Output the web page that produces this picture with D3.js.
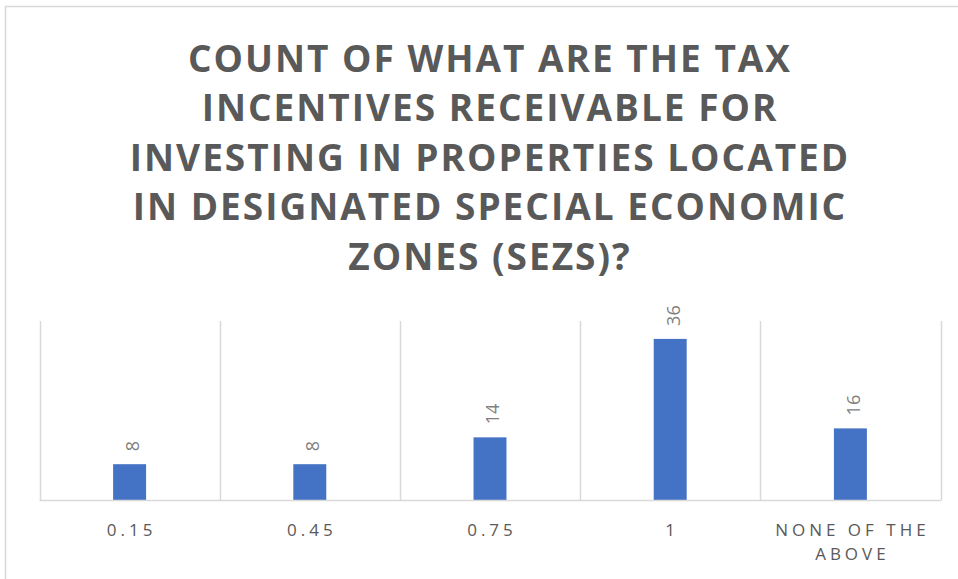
<!DOCTYPE html>
<html lang="en">
<head>
<meta charset="UTF-8">
<title>Count of tax incentives</title>
<script src="https://d3js.org/d3.v7.min.js"></script>
<style>
  body { margin: 0; background: #fff; }
  svg { display: block; }
</style>
</head>
<body>
<script>
// data
var categories = ["0.15", "0.45", "0.75", "1", "NONE OF THE ABOVE"];
var counts = [8, 8, 14, 36, 16];
var titleLines = [
    "COUNT OF WHAT ARE THE TAX",
    "INCENTIVES RECEIVABLE FOR",
    "INVESTING IN PROPERTIES LOCATED",
    "IN DESIGNATED SPECIAL ECONOMIC",
    "ZONES (SEZS)?"
];
var yMax = 40;

var w = 958;
var h = 579;
var margin = {top: 321, right: 17.5, bottom: 79, left: 39.5};

var svg = d3.select("body")
    .append("svg")
    .attr("width", w)
    .attr("height", h);

svg.append("rect")
    .attr("width", w)
    .attr("height", h)
    .attr("fill", "#fff");

// chart frame, runs off the right and bottom of the picture
svg.append("rect")
    .attr("x", 5.5)
    .attr("y", 6.5)
    .attr("width", 1000)
    .attr("height", 1000)
    .attr("fill", "none")
    .attr("stroke", "#d9d9d9")
    .attr("stroke-width", 1.5);

// title
svg.append("g")
    .selectAll("text")
    .data(titleLines)
    .enter()
    .append("text")
    .attr("x", 490)
    .attr("y", function(d, i){ return 71.5 + i * 49.5; })
    .attr("text-anchor", "middle")
    .style("font-family", "'Open Sans', sans-serif")
    .style("font-weight", "bold")
    .style("font-size", "37px")
    .style("letter-spacing", "2px")
    .attr("fill", "#595959")
    .text(function(d){ return d; });

var x0 = margin.left, x1 = w - margin.right;
var y0 = h - margin.bottom, y1 = margin.top;

var slot = d3.scaleBand()
    .domain(categories)
    .range([x0, x1]);

var x = d3.scaleBand()
    .domain(categories)
    .range([x0, x1])
    .paddingInner(0.817)
    .paddingOuter(0.4085);

var y = d3.scaleLinear()
    .domain([0, yMax])
    .range([y0, y1]);

// vertical separators between categories
var edges = categories.map(function(c){ return slot(c); }).concat([x1]);
svg.append("g")
    .selectAll("line")
    .data(edges)
    .enter()
    .append("line")
    .attr("x1", function(d){ return Math.round(d) + 0.5; })
    .attr("x2", function(d){ return Math.round(d) + 0.5; })
    .attr("y1", y(yMax))
    .attr("y2", y(0))
    .attr("stroke", "#d9d9d9")
    .attr("stroke-width", 1.5);

// bars
svg.append("g")
    .selectAll("rect")
    .data(counts)
    .enter()
    .append("rect")
    .attr("x", function(d, i){ return x(categories[i]); })
    .attr("y", function(d){ return y(d); })
    .attr("width", x.bandwidth())
    .attr("height", function(d){ return y(0) - y(d); })
    .attr("fill", "#4472c4");

// baseline
svg.append("line")
    .attr("x1", x0)
    .attr("x2", x1 + 1)
    .attr("y1", y(0) + 0.5)
    .attr("y2", y(0) + 0.5)
    .attr("stroke", "#d9d9d9")
    .attr("stroke-width", 1.5);

// value labels, turned on their side
svg.append("g")
    .selectAll("text")
    .data(counts)
    .enter()
    .append("text")
    .attr("transform", function(d, i){
        var cx = x(categories[i]) + x.bandwidth() / 2 + 3;
        return "translate(" + cx + "," + (y(d) - 13) + ") rotate(-90)";
    })
    .attr("dy", "0.35em")
    .style("font-family", "'Open Sans', sans-serif")
    .style("font-size", "18px")
    .attr("fill", "#7f7f7f")
    .text(function(d){ return d; });

// category labels
var xAxis = d3.axisBottom(slot).tickSize(0).tickPadding(0);
var gx = svg.append("g")
    .attr("transform", "translate(0," + y0 + ")")
    .call(xAxis);
gx.select(".domain").remove();
gx.selectAll("text").remove();
gx.selectAll(".tick")
    .append("text")
    .attr("text-anchor", "middle")
    .style("font-family", "'Open Sans', sans-serif")
    .style("font-size", "17px")
    .style("letter-spacing", "4px")
    .attr("fill", "#595959")
    .each(function(d){
        var t = d3.select(this);
        var lines = d == "NONE OF THE ABOVE" ? ["NONE OF THE", "ABOVE"] : [d];
        lines.forEach(function(l, k){
            t.append("tspan")
                .attr("x", 2)
                .attr("y", 36 + k * 24)
                .text(l);
        });
    });
</script>
</body>
</html>
